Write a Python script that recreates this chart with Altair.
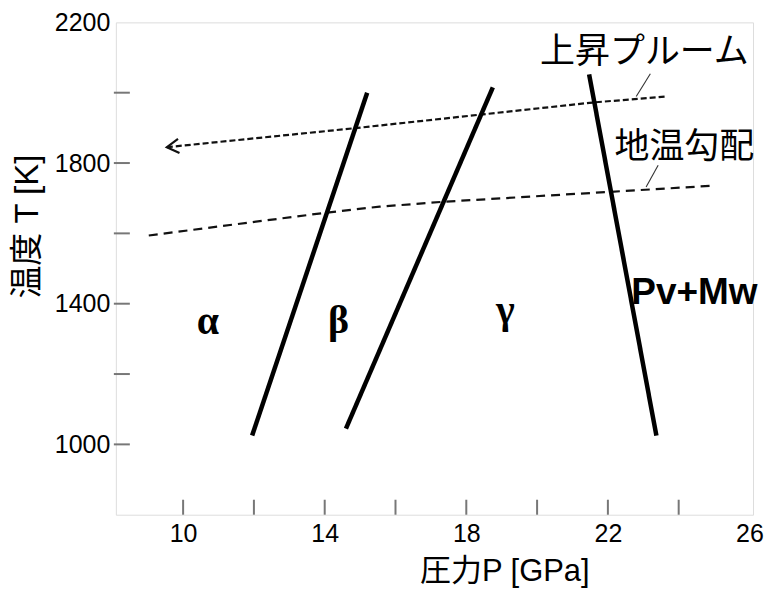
import altair as alt
import pandas as pd

# ---- data ----
# phase boundaries (pressure GPa, temperature K)
b1_p = [11.95, 15.2]
b1_t = [1025, 2000]
b2_p = [14.6, 18.75]
b2_t = [1045, 2015]
b3_p = [21.47, 23.37]
b3_t = [2052, 1025]
# geotherm (dashed)
geo_p = [9.03, 14.05, 15.55, 17.38, 22.04, 24.89]
geo_t = [1594, 1659, 1676, 1690, 1718, 1735]
# rising plume (dashed with arrow)
plume_p = [9.54, 14.84, 21.56, 23.62]
plume_t = [1845, 1899, 1972, 1989]
# leader lines from labels
lead1_p = [23.2, 22.8]
lead1_t = [2054, 1989]
lead2_p = [23.42, 23.08]
lead2_t = [1794, 1732]
# axis ticks
x_labels = [10, 14, 18, 22, 26]
x_ticks = [10, 12, 14, 16, 18, 20, 22, 24]
y_labels = [1000, 1400, 1800, 2200]
y_ticks = [1000, 1200, 1400, 1600, 1800, 2000]
# text annotations
phase_names = ["α", "β", "γ"]
phase_p = [10.7, 14.39, 19.1]
phase_t = [1313, 1318, 1344]
jp_names = ["上昇プルーム", "地温勾配"]
jp_p = [23.03, 24.16]
jp_t = [2115, 1845]
pv_name = ["Pv+Mw"]
pv_p = [22.66]
pv_t = [1400]

SANS = "'Liberation Sans', 'Noto Sans CJK JP'"
JP = "'Noto Sans CJK JP'"

def seg(pid, ps, ts):
    return [{"id": pid, "o": i, "P": p, "T": t} for i, (p, t) in enumerate(zip(ps, ts))]

bounds = pd.DataFrame(seg("b1", b1_p, b1_t) + seg("b2", b2_p, b2_t) + seg("b3", b3_p, b3_t))
geo = pd.DataFrame(seg("geo", geo_p, geo_t))
plume = pd.DataFrame(seg("plume", plume_p, plume_t))
leads = pd.DataFrame(seg("l1", lead1_p, lead1_t) + seg("l2", lead2_p, lead2_t))
arrow = pd.DataFrame({"P": [plume_p[0]], "T": [plume_t[0]]})
xt = pd.DataFrame({"P": x_ticks})
yt = pd.DataFrame({"T": y_ticks})
phases = pd.DataFrame({"label": phase_names, "P": phase_p, "T": phase_t})
jp = pd.DataFrame({"label": jp_names, "P": jp_p, "T": jp_t})
pv = pd.DataFrame({"label": pv_name, "P": pv_p, "T": pv_t})

xscale = alt.Scale(domain=[8.1, 26.1], nice=False, zero=False)
yscale = alt.Scale(domain=[800, 2200], nice=False, zero=False)

xaxis = alt.Axis(values=x_labels, format="d", title="圧力P [GPa]", ticks=False, domain=False, grid=False,
                 labelFont="Liberation Sans", labelFontSize=25, labelColor="black",
                 labelPadding=7, labelFlush=False, labelOverlap=False,
                 titleFont=SANS, titleFontSize=31, titleFontWeight="normal", titleColor="black",
                 titleX=389, titleY=57, titleBaseline="middle", titleAlign="center")
yaxis = alt.Axis(values=y_labels, format="d", title="温度 T [K]", ticks=False, domain=False, grid=False,
                 labelFont="Liberation Sans", labelFontSize=25, labelColor="black",
                 labelPadding=6, labelFlush=False, labelOverlap=False,
                 titleFont=SANS, titleFontSize=33, titleFontWeight="normal", titleColor="black",
                 titleAngle=270, titleX=-88, titleY=204, titleBaseline="middle", titleAlign="center")

X = alt.X("P:Q", scale=xscale, axis=xaxis)
Y = alt.Y("T:Q", scale=yscale, axis=yaxis)
Xn = alt.X("P:Q", scale=xscale)
Yn = alt.Y("T:Q", scale=yscale)

bound_layer = alt.Chart(bounds).mark_line(color="black", strokeWidth=4.5, strokeCap="butt").encode(
    x=X, y=Y, detail="id:N", order="o:Q")
geo_layer = alt.Chart(geo).mark_line(color="#111", strokeWidth=2.2, strokeDash=[9, 6]).encode(
    x=Xn, y=Yn, order="o:Q")
plume_layer = alt.Chart(plume).mark_line(color="#111", strokeWidth=2.2, strokeDash=[6, 3]).encode(
    x=Xn, y=Yn, order="o:Q")
arrow_layer = alt.Chart(arrow).mark_point(shape="M 2 -1.2 L 0 0 L 2 1.2", size=144, filled=False,
                                          color="#111", strokeWidth=2.2, angle=354, opacity=1).encode(
    x=Xn, y=Yn)
lead_layer = alt.Chart(leads).mark_line(color="#333", strokeWidth=1.1).encode(
    x=Xn, y=Yn, detail="id:N", order="o:Q")
xtick_layer = alt.Chart(xt).mark_rule(color="#777", strokeWidth=2).encode(
    x=Xn, y=alt.value(493), y2=alt.value(478))
ytick_layer = alt.Chart(yt).mark_rule(color="#777", strokeWidth=2).encode(
    y=Yn, x=alt.value(-2), x2=alt.value(14))
phase_layer = alt.Chart(phases).mark_text(font="Liberation Serif", fontSize=40, fontWeight="bold",
                                          align="center", baseline="alphabetic", color="black").encode(
    x=Xn, y=Yn, text="label:N")
jp_layer = alt.Chart(jp).mark_text(font=JP, fontSize=35, align="center", baseline="middle",
                                   color="black").encode(x=Xn, y=Yn, text="label:N")
pv_layer = alt.Chart(pv).mark_text(font="Liberation Sans", fontSize=37, fontWeight="bold", align="left",
                                   baseline="alphabetic", color="black").encode(
    x=Xn, y=Yn, text="label:N")

chart = alt.layer(
    xtick_layer, ytick_layer, geo_layer, plume_layer, arrow_layer, lead_layer,
    bound_layer, phase_layer, jp_layer, pv_layer
).properties(
    width=638, height=493,
    autosize=alt.AutoSizeParams(type="none"),
    padding={"left": 108, "top": 14, "right": 12, "bottom": 76},
).configure_view(stroke="#444", strokeWidth=1.5).configure(background="white")

chart.save("out.html", embed_options={"renderer": "svg", "actions": False})
